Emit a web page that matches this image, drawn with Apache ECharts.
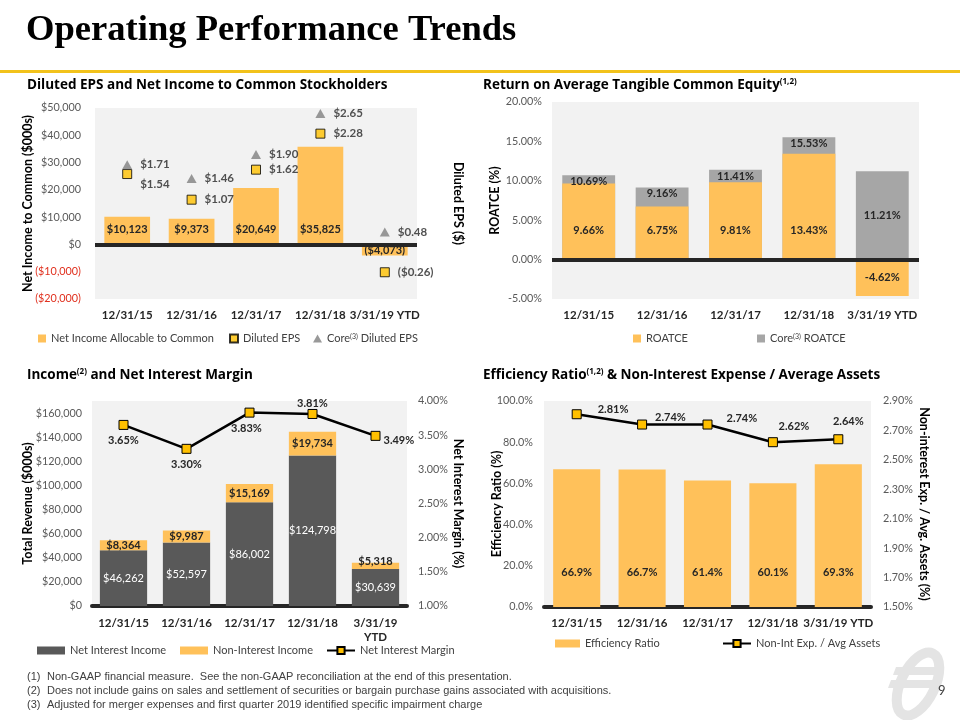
<!DOCTYPE html>
<html><head><meta charset="utf-8">
<script src="https://cdn.jsdelivr.net/npm/echarts@6/dist/echarts.min.js"></script>
<style>html,body{margin:0;padding:0;background:#fff}#c{width:960px;height:720px}</style>
</head><body><div id="c"></div>
<script>
// ---------- data ----------
const categories = ['12/31/15', '12/31/16', '12/31/17', '12/31/18', '3/31/19 YTD'];
const categoriesRevenue = ['12/31/15', '12/31/16', '12/31/17', '12/31/18', '3/31/19\nYTD'];

const netIncome = [10123, 9373, 20649, 35825, -4073];
const dilutedEPS = [1.54, 1.07, 1.62, 2.28, -0.26];
const coreEPS = [1.71, 1.46, 1.90, 2.65, 0.48];

const roatce = [9.66, 6.75, 9.81, 13.43, -4.62];
const coreRoatce = [10.69, 9.16, 11.41, 15.53, 11.21];

const netInterestIncome = [46262, 52597, 86002, 124798, 30639];
const nonInterestIncome = [8364, 9987, 15169, 19734, 5318];
const netInterestMargin = [3.65, 3.30, 3.83, 3.81, 3.49];

const efficiencyRatio = [66.9, 66.7, 61.4, 60.1, 69.3];
const nonIntExpAssets = [2.81, 2.74, 2.74, 2.62, 2.64];

const revenueTicks = [0, 20000, 40000, 60000, 80000, 100000, 120000, 140000, 160000];
const nonIntExpTicks = [1.5, 1.7, 1.9, 2.1, 2.3, 2.5, 2.7, 2.9];

// ---------- style ----------
const F = 'Lato, "Open Sans", "DejaVu Sans", sans-serif';
const FT = '"Open Sans", Lato, "DejaVu Sans", sans-serif';
const YEL = '#FFC15A';
const MK = '#FFC000';
const DARK = '#262626';
const AX = '#595959';

const money = v => v < 0 ? '($' + Math.abs(v).toLocaleString('en-US') + ')' : '$' + v.toLocaleString('en-US');
const money2 = v => v < 0 ? '($' + Math.abs(v).toFixed(2) + ')' : '$' + v.toFixed(2);
const pct2 = v => v.toFixed(2) + '%';
const pct1 = v => v.toFixed(1) + '%';

const axisLabelBase = { fontFamily: F, fontSize: 10.8, color: AX };
const nameStyle = { fontFamily: F, fontSize: 12.5, fontWeight: 'bold', color: '#000' };
const catLabel = { fontFamily: F, fontSize: 11.5, fontWeight: 'bold', color: DARK };
const barLabel = { show: true, fontFamily: F, fontSize: 11, fontWeight: 'bold', color: DARK };
const supRich = { sup: { fontSize: 8, verticalAlign: 'top', lineHeight: 10, fontFamily: FT, color: '#000' } };
const zeroLine = {
  silent: true, symbol: 'none', label: { show: false },
  lineStyle: { color: DARK, width: 4, type: 'solid' },
  data: [{ yAxis: 0 }], animation: false
};

function chartTitle(text, left, top) {
  return {
    text: text, left: left, top: top, padding: 0,
    textStyle: { fontFamily: FT, fontSize: 13.5, fontWeight: 'bold', color: '#000', rich: supRich }
  };
}

const legendRich = { sup: { fontSize: 7, verticalAlign: 'top', lineHeight: 9, fontFamily: F, color: '#404040' } };
function legendItem(name, left, top, w, h, icon) {
  return {
    data: icon ? [{ name: name, icon: icon }] : [name],
    left: left, top: top, padding: 0, itemWidth: w, itemHeight: h, selectedMode: false,
    textStyle: { fontFamily: F, fontSize: 11, color: '#404040', rich: legendRich },
    formatter: n => n.replace(/^Core /, 'Core{sup|(3)} ')
  };
}

// label tweaks for line series
const nimLabel = [
  { position: 'bottom' },
  { position: 'bottom' },
  { position: 'bottom', offset: [-3, 0] },
  { position: 'top', distance: 0 },
  { position: 'right', distance: 3, offset: [0, 5] }
];
const neaLabel = [
  { position: 'right', distance: 16, offset: [0, -5] },
  { position: 'right', distance: 8, offset: [0, -7] },
  { position: 'right', distance: 14, offset: [0, -6] },
  { position: 'top', offset: [21, 0] },
  { position: 'top', offset: [10, -2] }
];

function yName(name, gap, rotate) {
  const o = { name: name, nameLocation: 'middle', nameGap: gap, nameMoveOverlap: false, nameTextStyle: nameStyle };
  if (rotate !== undefined) o.nameRotate = rotate;
  return o;
}

const option = {
  animation: false,
  backgroundColor: '#fff',
  title: [
    { text: 'Operating Performance Trends', left: 26, top: 12, padding: 0,
      textStyle: { fontFamily: '"Liberation Serif", "DejaVu Serif", serif', fontSize: 36.6, fontWeight: 'bold', color: '#000' } },
    chartTitle('Diluted EPS and Net Income to Common Stockholders', 27, 78),
    chartTitle('Return on Average Tangible Common Equity{sup|(1,2)}', 483, 78),
    chartTitle('Income{sup|(2)} and Net Interest Margin', 27, 368),
    chartTitle('Efficiency Ratio{sup|(1,2)} & Non-Interest Expense / Average Assets', 483, 368)
  ],
  legend: [
    legendItem('Net Income Allocable to Common', 38, 333, 8, 8, 'rect'),
    legendItem('Diluted EPS', 229, 333, 8, 8),
    legendItem('Core Diluted EPS', 313, 333, 9, 8),
    legendItem('ROATCE', 633, 333, 8, 8, 'rect'),
    legendItem('Core ROATCE', 757, 333, 8, 8, 'rect'),
    legendItem('Net Interest Income', 37, 645, 28, 8, 'rect'),
    legendItem('Non-Interest Income', 180, 645, 28, 8, 'rect'),
    legendItem('Net Interest Margin', 326, 645, 28, 9),
    legendItem('Efficiency Ratio', 555, 638, 25, 8, 'rect'),
    legendItem('Non-Int Exp. / Avg Assets', 722, 638, 28, 9)
  ],
  grid: [
    { left: 95, top: 108, width: 322, height: 191, show: true, backgroundColor: '#F2F2F2', borderWidth: 0 },
    { left: 552, top: 102, width: 367, height: 197, show: true, backgroundColor: '#F2F2F2', borderWidth: 0 },
    { left: 92, top: 401, width: 315, height: 205, show: true, backgroundColor: '#F2F2F2', borderWidth: 0 },
    { left: 544, top: 401, width: 327, height: 206, show: true, backgroundColor: '#F2F2F2', borderWidth: 0 }
  ],
  xAxis: [
    { gridIndex: 0, type: 'category', data: categories, axisLine: { show: false }, axisTick: { show: false },
      axisLabel: Object.assign({ margin: 10, interval: 0 }, catLabel) },
    { gridIndex: 1, type: 'category', data: categories, axisLine: { show: false }, axisTick: { show: false },
      axisLabel: Object.assign({ margin: 10, interval: 0 }, catLabel) },
    { gridIndex: 2, type: 'category', data: categoriesRevenue, axisTick: { show: false },
      axisLine: { show: true, onZero: false, lineStyle: { color: DARK, width: 4 } },
      axisLabel: Object.assign({ margin: 10, interval: 0, lineHeight: 14 }, catLabel) },
    { gridIndex: 3, type: 'category', data: categories, axisTick: { show: false },
      axisLine: { show: true, onZero: false, lineStyle: { color: DARK, width: 4 } },
      axisLabel: Object.assign({ margin: 10, interval: 0 }, catLabel) }
  ],
  yAxis: [
    Object.assign({ gridIndex: 0, type: 'value', min: -20000, max: 50000, interval: 10000,
      axisLine: { show: false }, axisTick: { show: false }, splitLine: { show: false },
      axisLabel: Object.assign({}, axisLabelBase, { margin: 14, formatter: money, color: v => v < 0 ? '#E0301E' : AX }) },
      yName('Net Income to Common ($000s)', 61)),
    Object.assign({ gridIndex: 0, type: 'value', min: -0.75, max: 2.75, position: 'right',
      axisLine: { show: false }, axisTick: { show: false }, splitLine: { show: false }, axisLabel: { show: false } },
      yName('Diluted EPS ($)', 35, -90)),
    Object.assign({ gridIndex: 1, type: 'value', min: -5, max: 20, interval: 5,
      axisLine: { show: false }, axisTick: { show: false }, splitLine: { show: false },
      axisLabel: Object.assign({}, axisLabelBase, { margin: 10, formatter: pct2 }) },
      yName('ROATCE (%)', 51)),
    Object.assign({ gridIndex: 2, type: 'value', min: 0, max: 170000,
      axisLine: { show: false }, axisTick: { show: false }, splitLine: { show: false },
      axisLabel: Object.assign({}, axisLabelBase, { margin: 10, formatter: money, customValues: revenueTicks }) },
      yName('Total Revenue ($000s)', 58)),
    Object.assign({ gridIndex: 2, type: 'value', min: 1, max: 4, interval: 0.5, position: 'right',
      axisLine: { show: false }, axisTick: { show: false }, splitLine: { show: false },
      axisLabel: Object.assign({}, axisLabelBase, { margin: 11, formatter: pct2 }) },
      yName('Net Interest Margin (%)', 45, -90)),
    Object.assign({ gridIndex: 3, type: 'value', min: 0, max: 100, interval: 20,
      axisLine: { show: false }, axisTick: { show: false }, splitLine: { show: false },
      axisLabel: Object.assign({}, axisLabelBase, { margin: 11, formatter: pct1 }) },
      yName('Efficiency Ratio (%)', 41)),
    Object.assign({ gridIndex: 3, type: 'value', min: 1.5, max: 2.9, position: 'right',
      axisLine: { show: false }, axisTick: { show: false }, splitLine: { show: false },
      axisLabel: Object.assign({}, axisLabelBase, { margin: 12, formatter: pct2, customValues: nonIntExpTicks }) },
      yName('Non-interest Exp. / Avg. Assets (%)', 47, -90))
  ],
  series: [
    // chart 1
    { name: 'Net Income Allocable to Common', type: 'bar', xAxisIndex: 0, yAxisIndex: 0, barWidth: '71%',
      itemStyle: { color: YEL },
      data: netIncome.map(v => v < 0 ? { value: v, label: { position: 'inside' } } : v),
      label: Object.assign({}, barLabel, { position: 'insideBottom', distance: 9, formatter: p => money(p.value) }),
      markLine: zeroLine },
    { name: 'Diluted EPS', type: 'scatter', xAxisIndex: 0, yAxisIndex: 1, symbol: 'rect', symbolSize: 9, z: 4,
      itemStyle: { color: MK, borderColor: '#000', borderWidth: 1 },
      data: dilutedEPS.map((v, i) => i === 0 ? { value: v, label: { offset: [0, 10] } } : v),
      label: Object.assign({}, barLabel, { fontSize: 11.5, position: 'right', distance: 8, formatter: p => money2(p.value) }) },
    { name: 'Core Diluted EPS', type: 'scatter', xAxisIndex: 0, yAxisIndex: 1, symbol: 'triangle', symbolSize: [10, 9], z: 4,
      itemStyle: { color: '#7F7F7F' },
      data: coreEPS,
      label: Object.assign({}, barLabel, { fontSize: 11.5, position: 'right', distance: 8, formatter: p => money2(p.value) }) },
    // chart 2
    { name: 'Core ROATCE', type: 'bar', xAxisIndex: 1, yAxisIndex: 2, barWidth: '72%', barGap: '-100%',
      itemStyle: { color: '#A6A6A6' },
      data: coreRoatce.map((v, i) => i === 4 ? { value: v, label: { position: 'inside' } } : v),
      label: Object.assign({}, barLabel, { position: 'insideTop', distance: 1, formatter: p => pct2(p.value) }) },
    { name: 'ROATCE', type: 'bar', xAxisIndex: 1, yAxisIndex: 2, barWidth: '72%', barGap: '-100%',
      itemStyle: { color: YEL },
      data: roatce.map(v => v < 0 ? { value: v, label: { position: 'inside' } } : v),
      label: Object.assign({}, barLabel, { position: 'insideBottom', distance: 24, formatter: p => pct2(p.value) }),
      markLine: zeroLine },
    // chart 3
    { name: 'Net Interest Income', type: 'bar', stack: 'rev', xAxisIndex: 2, yAxisIndex: 3, barWidth: '75%',
      itemStyle: { color: '#595959' }, data: netInterestIncome,
      label: Object.assign({}, barLabel, { color: '#fff', fontWeight: 'normal', fontSize: 11, position: 'inside', formatter: p => money(p.value) }) },
    { name: 'Non-Interest Income', type: 'bar', stack: 'rev', xAxisIndex: 2, yAxisIndex: 3, barWidth: '75%',
      itemStyle: { color: YEL },
      data: nonInterestIncome.map((v, i) => i === 4 ? { value: v, label: { offset: [0, -4] } } : v),
      label: Object.assign({}, barLabel, { position: 'inside', formatter: p => money(p.value) }) },
    { name: 'Net Interest Margin', type: 'line', xAxisIndex: 2, yAxisIndex: 4, z: 5,
      symbol: 'rect', symbolSize: 9,
      lineStyle: { color: '#000', width: 2.5 },
      itemStyle: { color: MK, borderColor: '#000', borderWidth: 1 },
      data: netInterestMargin.map((v, i) => ({ value: v, label: nimLabel[i] })),
      label: Object.assign({}, barLabel, { formatter: p => pct2(p.value) }) },
    // chart 4
    { name: 'Efficiency Ratio', type: 'bar', xAxisIndex: 3, yAxisIndex: 5, barWidth: '72%',
      itemStyle: { color: YEL }, data: efficiencyRatio,
      label: Object.assign({}, barLabel, { position: 'insideBottom', distance: 29, formatter: p => pct1(p.value) }) },
    { name: 'Non-Int Exp. / Avg Assets', type: 'line', xAxisIndex: 3, yAxisIndex: 6, z: 5,
      symbol: 'rect', symbolSize: 9,
      lineStyle: { color: '#000', width: 2.5 },
      itemStyle: { color: MK, borderColor: '#000', borderWidth: 1 },
      data: nonIntExpAssets.map((v, i) => ({ value: v, label: neaLabel[i] })),
      label: Object.assign({}, barLabel, { formatter: p => pct2(p.value) }) }
  ],
  graphic: [
    { type: 'rect', left: 0, top: 70, shape: { width: 960, height: 3 }, style: { fill: '#F2C21B' }, silent: true },
    // logo watermark
    { type: 'ellipse', shape: { cx: 0, cy: 0, rx: 17, ry: 34 }, x: 918, y: 684, rotation: -0.45,
      style: { fill: 'none', stroke: '#E4E4E4', lineWidth: 10 }, silent: true, z: -1 },
    { type: 'polygon', shape: { points: [[896, 667], [940, 667], [937, 675], [893, 675]] }, style: { fill: '#E4E4E4' }, silent: true, z: -1 },
    { type: 'polygon', shape: { points: [[891, 680], [935, 680], [932, 688], [888, 688]] }, style: { fill: '#E4E4E4' }, silent: true, z: -1 },
    { type: 'text', left: 938, top: 684, style: { text: '9', font: '13px ' + F, fill: '#404040' } },
    { type: 'text', left: 27, top: 671, style: { text: '(1)', font: '11px "Liberation Sans Narrow", "Arial Narrow", sans-serif', fill: '#404040' } },
    { type: 'text', left: 47, top: 671, style: { text: 'Non-GAAP financial measure.  See the non-GAAP reconciliation at the end of this presentation.', font: '11px "Liberation Sans Narrow", "Arial Narrow", sans-serif', fill: '#404040' } },
    { type: 'text', left: 27, top: 685, style: { text: '(2)', font: '11px "Liberation Sans Narrow", "Arial Narrow", sans-serif', fill: '#404040' } },
    { type: 'text', left: 47, top: 685, style: { text: 'Does not include gains on sales and settlement of securities or bargain purchase gains associated with acquisitions.', font: '11px "Liberation Sans Narrow", "Arial Narrow", sans-serif', fill: '#404040' } },
    { type: 'text', left: 27, top: 699, style: { text: '(3)', font: '11px "Liberation Sans Narrow", "Arial Narrow", sans-serif', fill: '#404040' } },
    { type: 'text', left: 47, top: 699, style: { text: 'Adjusted for merger expenses and first quarter 2019 identified specific impairment charge', font: '11px "Liberation Sans Narrow", "Arial Narrow", sans-serif', fill: '#404040' } }
  ]
};

const chart = echarts.init(document.getElementById('c'), null, { renderer: 'canvas' });
chart.setOption(option);
</script>
</body></html>
